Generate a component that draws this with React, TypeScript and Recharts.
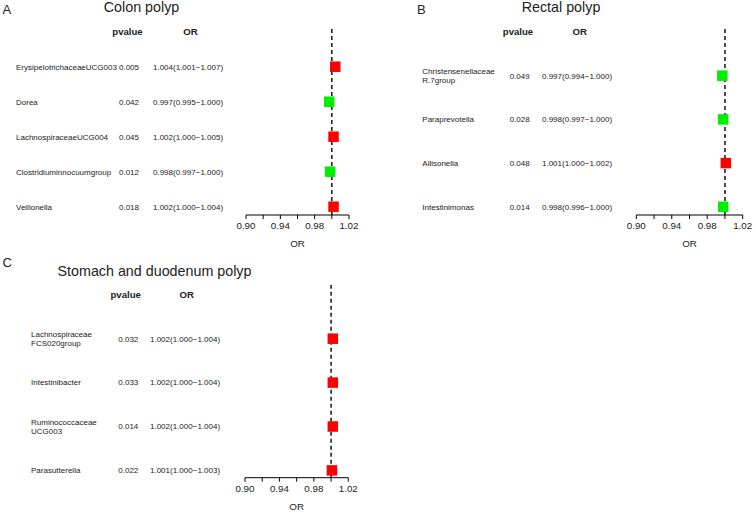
import { ScatterChart, Scatter, XAxis, YAxis, ReferenceLine } from "recharts";

const FONT = '"Liberation Sans", Arial, Helvetica, sans-serif';
const RED = "#ff0000";
const GREEN = "#00ee00";

// A: colon polyp
const colonTaxa = ["ErysipelotrichaceaeUCG003", "Dorea", "LachnospiraceaeUCG004", "Clostridiuminnocuumgroup", "Veillonella"];
const colonP = ["0.005", "0.042", "0.045", "0.012", "0.018"];
const colonOR = [1.004, 0.997, 1.002, 0.998, 1.002];
const colonLow = [1.001, 0.995, 1.0, 0.997, 1.0];
const colonHigh = [1.007, 1.0, 1.005, 1.0, 1.004];

// B: rectal polyp
const rectalTaxa = ["Christensenellaceae\nR.7group", "Paraprevotella", "Allisonella", "Intestinimonas"];
const rectalP = ["0.049", "0.028", "0.048", "0.014"];
const rectalOR = [0.997, 0.998, 1.001, 0.998];
const rectalLow = [0.994, 0.997, 1.0, 0.996];
const rectalHigh = [1.0, 1.0, 1.002, 1.0];

// C: stomach and duodenum polyp
const stomachTaxa = ["Lachnospiraceae\nFCS020group", "Intestinibacter", "Ruminococcaceae\nUCG003", "Parasutterella"];
const stomachP = ["0.032", "0.033", "0.014", "0.022"];
const stomachOR = [1.002, 1.002, 1.002, 1.001];
const stomachLow = [1.0, 1.0, 1.0, 1.0];
const stomachHigh = [1.004, 1.004, 1.004, 1.003];

const orTicks = [0.9, 0.92, 0.94, 0.96, 0.98, 1.0, 1.02];
const orTickLabels = ["0.90", "", "0.94", "", "0.98", "", "1.02"];

const W = 377;
const H = 256;
const AXIS_H = 34;
const TEXT = "#222";

type Layout = {
  letter: string;
  title: string;
  left: number;
  top: number;
  plotLeft: number;
  plotRight: number;
  plotTop: number;
  axisY: number;
  headerY: number;
  gap: number;
  nameX: number;
  pX: number;
  orX: number;
  hdrPX: number;
  hdrOrX: number;
  letterX: number;
  letterTop: number;
  titleX: number;
  titleTop: number;
};

const fmt = (v: number) => v.toFixed(3);

function ForestPanel({ cfg, taxa, pvals, or, low, high }: {
  cfg: Layout; taxa: string[]; pvals: string[]; or: number[]; low: number[]; high: number[];
}) {
  const rows = taxa.map((name, i) => ({
    x: or[i],
    y: i + 1,
    name,
    p: pvals[i],
    text: `${fmt(or[i])}(${fmt(low[i])}\u2212${fmt(high[i])})`,
  }));
  const yDomain = [(cfg.plotTop - cfg.headerY) / cfg.gap, (cfg.axisY - cfg.headerY) / cfg.gap];
  const yTicks = [0, ...rows.map((r) => r.y)];

  const rowTick = (props: any) => {
    const { y, payload } = props;
    const i = Math.round(payload.value);
    if (i === 0) {
      return (
        <g>
          <text x={cfg.hdrPX} y={y} dy="0.35em" textAnchor="middle" fontSize={9.6} fontWeight="bold" fill={TEXT} fontFamily={FONT}>pvalue</text>
          <text x={cfg.hdrOrX} y={y} dy="0.35em" textAnchor="middle" fontSize={9.6} fontWeight="bold" fill={TEXT} fontFamily={FONT}>OR</text>
        </g>
      );
    }
    const r = rows[i - 1];
    const lines = r.name.split("\n");
    return (
      <g>
        {lines.map((ln, k) => (
          <text key={k} x={cfg.nameX} y={y + (k - (lines.length - 1) / 2) * 9} dy="0.35em" fontSize={8} fill={TEXT} fontFamily={FONT}>{ln}</text>
        ))}
        <text x={cfg.pX} y={y} dy="0.35em" fontSize={8} fill={TEXT} fontFamily={FONT}>{r.p}</text>
        <text x={cfg.orX} y={y} dy="0.35em" fontSize={8} fill={TEXT} fontFamily={FONT}>{r.text}</text>
      </g>
    );
  };

  const orTick = (props: any) => {
    const { x, y, payload } = props;
    const idx = orTicks.findIndex((t) => Math.abs(t - payload.value) < 1e-6);
    return (
      <text x={x} y={y} dy="0.71em" textAnchor="middle" fontSize={9.8} fill={TEXT} fontFamily={FONT}>
        {orTickLabels[idx] ?? ""}
      </text>
    );
  };

  const square = (props: any) => {
    const s = 10.5;
    return (
      <rect x={props.cx - s / 2} y={props.cy - s / 2} width={s} height={s} fill={props.payload.x > 1 ? RED : GREEN} />
    );
  };

  return (
    <div style={{ position: "absolute", left: cfg.left, top: cfg.top, width: W, height: H }}>
      <div style={{ position: "absolute", left: cfg.letterX, top: cfg.letterTop, fontSize: 13, lineHeight: 1, color: TEXT, fontFamily: FONT }}>{cfg.letter}</div>
      <div style={{ position: "absolute", left: cfg.titleX, top: cfg.titleTop, transform: "translateX(-50%)", fontSize: 14.3, lineHeight: 1, whiteSpace: "nowrap", color: TEXT, fontFamily: FONT }}>{cfg.title}</div>
      <ScatterChart
        width={W}
        height={H}
        margin={{ top: cfg.plotTop, right: W - cfg.plotRight, bottom: Math.max(0, H - cfg.axisY - AXIS_H), left: 0 }}
      >
        <XAxis
          type="number"
          dataKey="x"
          domain={[0.9, 1.02]}
          ticks={orTicks}
          interval={0}
          allowDataOverflow
          height={AXIS_H}
          tickSize={4}
          tickMargin={3}
          stroke="#000"
          tick={orTick}
          label={{ value: "OR", position: "insideBottom", offset: 2, fontSize: 9.8, fill: TEXT, fontFamily: FONT }}
        />
        <YAxis
          type="number"
          dataKey="y"
          domain={yDomain}
          ticks={yTicks}
          interval={0}
          allowDataOverflow
          reversed
          width={cfg.plotLeft}
          axisLine={false}
          tickLine={false}
          tick={rowTick}
        />
        <ReferenceLine x={1} stroke="#000" strokeWidth={1.4} strokeDasharray="4 3" />
        <Scatter data={rows} shape={square} isAnimationActive={false} />
      </ScatterChart>
    </div>
  );
}

const colonLayout: Layout = {
  letter: "A", title: "Colon polyp", left: 0, top: 0,
  plotLeft: 246, plotRight: 349, plotTop: 28, axisY: 215, headerY: 31.7, gap: 35,
  nameX: 16, pX: 119, orX: 153, hdrPX: 127.5, hdrOrX: 190.5,
  letterX: 2.5, letterTop: 3.3, titleX: 141.5, titleTop: 0.2,
};

const rectalLayout: Layout = {
  letter: "B", title: "Rectal polyp", left: 377, top: 0,
  plotLeft: 259.3, plotRight: 365.7, plotTop: 28, axisY: 215, headerY: 32, gap: 43.7,
  nameX: 45.3, pX: 132.7, orX: 165, hdrPX: 141, hdrOrX: 202.8,
  letterX: 40, letterTop: 3.3, titleX: 184, titleTop: 0.2,
};

const stomachLayout: Layout = {
  letter: "C", title: "Stomach and duodenum polyp", left: 0, top: 256,
  plotLeft: 245, plotRight: 348.3, plotTop: 29, axisY: 221.7, headerY: 38.8, gap: 43.9,
  nameX: 31, pX: 118.3, orX: 150, hdrPX: 125.7, hdrOrX: 186.7,
  letterX: 2.5, letterTop: -0.5, titleX: 154.5, titleTop: 8.2,
};

export default function App() {
  return (
    <div style={{ position: "absolute", left: 0, top: 0, width: 754, height: 512, background: "#fff", overflow: "hidden", fontFamily: FONT }}>
      <ForestPanel cfg={colonLayout} taxa={colonTaxa} pvals={colonP} or={colonOR} low={colonLow} high={colonHigh} />
      <ForestPanel cfg={rectalLayout} taxa={rectalTaxa} pvals={rectalP} or={rectalOR} low={rectalLow} high={rectalHigh} />
      <ForestPanel cfg={stomachLayout} taxa={stomachTaxa} pvals={stomachP} or={stomachOR} low={stomachLow} high={stomachHigh} />
    </div>
  );
}
